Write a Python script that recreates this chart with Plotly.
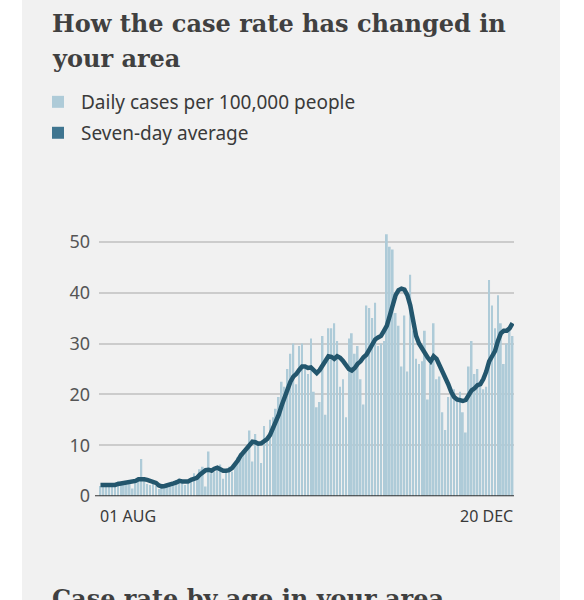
import pandas as pd
import plotly.graph_objects as go

dates = pd.date_range("2020-08-01", "2020-12-20", freq="D")
daily = [2.0,2.4,1.8,2.6,2.2,2.5,2.9,
 2.6,2.2,3.0,2.8,1.5,3.2,3.0,
 7.3,3.5,2.4,2.2,2.6,2.0,1.4,
 1.6,1.8,2.0,2.6,2.8,3.2,3.4,
 2.7,2.2,2.5,3.6,4.5,4.0,5.3,
 5.8,1.9,8.8,4.5,4.8,5.5,6.2,
 3.4,4.6,5.8,4.8,6.4,7.6,8.5,
 9.0,9.4,12.9,6.8,12.2,10.5,6.5,
 13.8,11.2,15.0,15.5,17.2,19.5,22.5,
 21.5,25.0,28.0,30.0,22.0,29.5,30.0,
 25.0,24.0,31.0,20.5,17.5,18.5,31.5,
 16.0,33.0,33.0,34.0,30.5,21.5,23.0,
 15.5,31.0,32.0,28.0,29.5,23.0,18.0,
 37.5,37.0,35.0,38.0,29.5,30.0,30.5,
 51.5,49.0,48.5,36.0,33.5,25.5,35.5,
 24.5,43.5,32.5,27.0,26.0,26.5,32.5,
 19.0,26.0,34.0,23.0,23.5,16.5,13.0,
 19.5,20.5,21.0,19.0,20.5,16.5,12.5,
 25.5,30.5,24.0,25.0,22.5,21.0,21.5,
 42.5,37.5,33.0,39.5,34.0,26.0,30.0,
 33.5,31.5]
avg7 = [2.2,2.2,2.1,2.2,2.3,2.2,2.4,
 2.5,2.6,2.7,2.7,2.9,3.0,3.3,
 3.4,3.3,3.2,3.0,2.8,2.6,2.1,
 1.9,2.0,2.1,2.3,2.5,2.7,3.0,
 2.9,2.8,2.9,3.2,3.5,3.6,4.2,
 4.8,5.1,5.2,5.0,5.4,5.6,5.3,
 5.0,5.0,5.1,5.5,6.2,7.0,8.0,
 8.7,9.4,10.2,10.7,10.6,10.3,10.4,
 10.7,11.2,12.0,13.2,14.5,16.0,17.8,
 19.5,21.0,22.5,23.5,24.0,24.8,25.5,
 25.5,25.2,25.3,24.8,24.2,24.8,25.8,
 26.8,27.5,27.4,27.0,27.5,27.2,26.6,
 25.8,25.0,24.7,25.2,26.0,26.5,27.3,
 27.8,28.8,30.0,30.8,31.2,31.5,32.5,
 33.5,35.5,37.5,39.5,40.5,40.8,40.6,
 39.5,37.5,34.0,31.5,30.0,29.0,27.8,
 27.2,26.5,27.5,27.0,25.8,24.8,23.5,
 22.0,20.5,19.5,19.0,18.8,18.7,18.9,
 19.8,20.8,21.2,21.8,22.0,23.0,24.5,
 26.5,27.5,28.5,30.5,32.0,32.5,32.5,
 33.0,34.0]
yticks = [0, 10, 20, 30, 40, 50]
xlabels = ["01 AUG", "20 DEC"]
legend_labels = ["Daily cases per 100,000 people", "Seven-day average"]

BAR = "#aecbd8"; LINE = "#23566d"; TXT = "#3a3a3a"
W, H = 584, 600
HM = 588.0  # effective rendered height used for positioning
def py(y):
    return 1 - y / HM

fig = go.Figure()
fig.add_bar(x=dates, y=daily, marker_color=BAR, marker_line_width=0, showlegend=False)
fig.add_scatter(x=dates, y=avg7, mode="lines", line=dict(color=LINE, width=4.5), showlegend=False)

fig.add_shape(type="rect", xref="paper", yref="paper", x0=22/W, x1=560/W, y0=-0.1, y1=1.1,
              fillcolor="#f1f1f1", line_width=0, layer="below")
font_t = dict(family="DejaVu Serif", size=24, color="#404040")
for i, line in enumerate(["How the case rate has changed in", "your area"]):
    fig.add_annotation(xref="paper", yref="paper", x=50/W, y=py(22+35*i), text="<b>"+line+"</b>",
                       showarrow=False, xanchor="left", yanchor="middle", font=font_t)
for i, (lab, col) in enumerate(zip(legend_labels, [BAR, "#3f7590"])):
    yc = 100 + 31*i
    fig.add_shape(type="rect", xref="paper", yref="paper", x0=52/W, x1=64/W,
                  y0=py(yc+6), y1=py(yc-6), fillcolor=col, line_width=0)
    fig.add_annotation(xref="paper", yref="paper", x=79/W, y=py(yc), text=lab, showarrow=False,
                       xanchor="left", yanchor="middle", font=dict(family="Noto Sans", size=19, color=TXT))
fig.add_annotation(x=dates[0], y=0, yref="y", text=xlabels[0], showarrow=False, xanchor="left",
                   yanchor="top", xshift=-2, yshift=-7, font=dict(family="Noto Sans", size=16, color=TXT))
fig.add_annotation(x=dates[-1], y=0, yref="y", text=xlabels[1], showarrow=False, xanchor="right",
                   yanchor="top", xshift=2, yshift=-7, font=dict(family="Noto Sans", size=16, color=TXT))
fig.add_annotation(xref="paper", yref="paper", x=50/W, y=py(598), text="<b>Case rate by age in your area</b>",
                   showarrow=False, xanchor="left", yanchor="middle", font=font_t)
fig.add_shape(type="line", xref="paper", yref="y", x0=95/W, x1=514/W, y0=0, y1=0,
              line=dict(color="#333", width=2))

fig.update_layout(width=W, height=H, margin=dict(l=0, r=0, t=0, b=0), paper_bgcolor="white",
                  plot_bgcolor="rgba(0,0,0,0)", bargap=0.4,
                  xaxis=dict(domain=[99/W, 514/W], showticklabels=False, showgrid=False, zeroline=False,
                             range=[dates[0]-pd.Timedelta(hours=12), dates[-1]+pd.Timedelta(hours=12)]),
                  yaxis=dict(domain=[py(495), py(230)], range=[0, 52], tickvals=yticks,
                             gridcolor="#cccccc", gridwidth=1.5, zeroline=False,
                             tickfont=dict(family="Noto Sans", size=18, color="#555"), ticklabelstandoff=8))
fig.write_html("out.html", config={"displayModeBar": False},
               post_script="document.body.style.margin='0';document.body.style.overflow='hidden';")
